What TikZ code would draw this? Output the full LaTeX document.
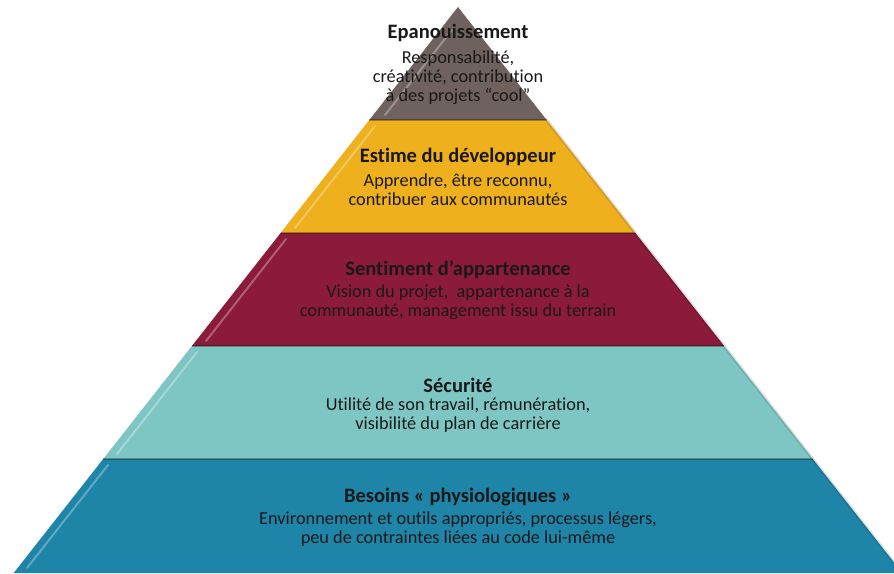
\documentclass[tikz,border=0pt]{standalone}
\usepackage{fontspec}
\setmainfont{Carlito}[Ligatures=NoCommon]
\definecolor{cgray}{HTML}{6F615D}
\definecolor{cyellow}{HTML}{EEB01C}
\definecolor{cred}{HTML}{8C1A3A}
\definecolor{cteal}{HTML}{7DC6C3}
\definecolor{cblue}{HTML}{1E85A8}
\begin{document}
\begin{tikzpicture}[x=1pt,y=-1pt,
  titletext/.style={align=center, font=\fontsize{20.5}{22}\selectfont\bfseries, text=black!90, inner sep=0pt},
  bodytext/.style={align=center, font=\fontsize{18.3}{19.2}\selectfont, text=black!90, inner sep=0pt},
  shine/.style={white, opacity=0.3, line width=2pt, line cap=round},
  seam/.style={black, opacity=0.3, line width=1.2pt},
  edge/.style={black, opacity=0.12, line width=3pt}]
\useasboundingbox (0,0) rectangle (894,573);
\clip (0,0) rectangle (894,573);
\fill[white] (0,0) rectangle (894,573);
% tiers
\fill[cgray]   (458,7) -- (546.7,120) -- (369.3,120) -- cycle;
\fill[cyellow] (369.3,120) -- (546.7,120) -- (635.4,233) -- (280.6,233) -- cycle;
\fill[cred]    (280.6,233) -- (635.4,233) -- (724.1,346) -- (191.9,346) -- cycle;
\fill[cteal]   (191.9,346) -- (724.1,346) -- (812.8,459) -- (103.2,459) -- cycle;
\fill[cblue]   (103.2,459) -- (812.8,459) -- (902.3,573) -- (13.7,573) -- cycle;
% darker right edges
\draw[edge] (546.7,120) -- (635.4,233);
\draw[edge] (635.4,233) -- (724.1,346);
\draw[edge] (724.1,346) -- (812.8,459);
\draw[edge] (812.8,459) -- (902.3,573);
% seams
\draw[seam] (369.3,120) -- (546.7,120);
\draw[seam] (280.6,233) -- (635.4,233);
\draw[seam] (191.9,346) -- (724.1,346);
\draw[seam] (103.2,459) -- (812.8,459);
% bevel highlights along left edges
\draw[shine] (385,115) -- (452,30);
\draw[shine] (295,228) -- (375,126);
\draw[shine] (206,341) -- (286,239);
\draw[shine] (117,454) -- (197,352);
\draw[shine] (27,568) -- (108,465);
% texts
\node[titletext] (h1) at (458,33) {Epanouissement};
\node[bodytext]  (b1) at (458,78) {Responsabilité,\\créativité, contribution\\à des projets “cool”};
\node[titletext] (h2) at (458,157) {Estime du développeur};
\node[bodytext]  (b2) at (458,189.5) {Apprendre, être reconnu,\\contribuer aux communautés};
\node[titletext] (h3) at (458,270) {Sentiment d’appartenance};
\node[bodytext]  (b3) at (458,302.5) {Vision du projet,\ \ appartenance à la\\communauté, management issu du terrain};
\node[titletext] (h4) at (458,385) {Sécurité};
\node[bodytext]  (b4) at (458,415.5) {Utilité de son travail, rémunération,\\visibilité du plan de carrière};
\node[titletext] (h5) at (458,497) {Besoins « physiologiques »};
\node[bodytext]  (b5) at (458,529) {Environnement et outils appropriés, processus légers,\\peu de contraintes liées au code lui-même};
\end{tikzpicture}
\end{document}
